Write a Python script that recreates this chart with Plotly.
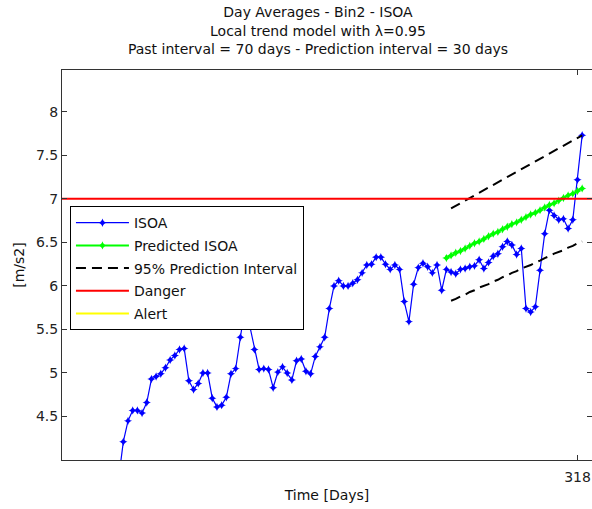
import plotly.graph_objects as go

# ---- data ----
isoa_days = list(range(220, 320))
isoa_values = [
    3.79, 4.21, 4.45, 4.57, 4.57, 4.54, 4.66, 4.93, 4.96, 4.99,
    5.06, 5.15, 5.20, 5.27, 5.28, 4.91, 4.81, 4.88, 5.00, 5.00,
    4.71, 4.61, 4.63, 4.72, 4.99, 5.05, 5.41, 5.75, 5.54, 5.27,
    5.04, 5.05, 5.04, 4.83, 5.01, 5.07, 5.00, 4.92, 5.14, 5.16,
    5.02, 4.99, 5.19, 5.30, 5.41, 5.74, 6.00, 6.06, 6.00, 6.00,
    6.03, 6.07, 6.15, 6.24, 6.25, 6.33, 6.33, 6.25, 6.19, 6.24,
    6.19, 5.82, 5.59, 6.02, 6.21, 6.26, 6.22, 6.15, 6.24, 5.95,
    6.19, 6.16, 6.14, 6.19, 6.20, 6.22, 6.23, 6.30, 6.20, 6.27,
    6.34, 6.37, 6.45, 6.51, 6.47, 6.36, 6.43, 5.74, 5.70, 5.76,
    6.18, 6.60, 6.87, 6.81, 6.76, 6.77, 6.66, 6.76, 7.22, 7.73,
]

pred_days = list(range(290, 320))
pred_values = [
    6.32, 6.35, 6.38, 6.40, 6.43, 6.46, 6.49, 6.51, 6.54, 6.57,
    6.60, 6.62, 6.65, 6.68, 6.71, 6.73, 6.76, 6.79, 6.82, 6.84,
    6.87, 6.90, 6.93, 6.95, 6.98, 7.01, 7.04, 7.06, 7.09, 7.12,
]

pi_days = list(range(291, 320))
pi_upper = [
    6.89, 6.92, 6.95, 6.98, 7.01, 7.04, 7.07, 7.10, 7.13, 7.16,
    7.19, 7.22, 7.25, 7.28, 7.31, 7.34, 7.37, 7.40, 7.43, 7.46,
    7.49, 7.52, 7.55, 7.58, 7.61, 7.64, 7.67, 7.70, 7.73,
]
pi_lower = [
    5.83, 5.85, 5.88, 5.90, 5.93, 5.95, 5.98, 6.00, 6.02, 6.05,
    6.07, 6.10, 6.12, 6.15, 6.17, 6.20, 6.22, 6.24, 6.27, 6.29,
    6.32, 6.34, 6.37, 6.39, 6.41, 6.44, 6.46, 6.49, 6.51,
]

danger_level = 7.0
x_range = [207.9, 321.1]
y_range = [4.0, 8.48]
y_ticks = [4.5, 5, 5.5, 6, 6.5, 7, 7.5, 8]
y_tick_labels = ["4.5", "5", "5.5", "6", "6.5", "7", "7.5", "8"]
x_ticks = [318]
x_tick_labels = ["318"]

FONT = "DejaVu Sans, Liberation Sans, Arial, sans-serif"

fig = go.Figure()

fig.add_trace(go.Scatter(
    x=isoa_days, y=isoa_values, mode="lines+markers", name="ISOA",
    line=dict(color="#0000FF", width=1.2),
    marker=dict(symbol="star-diamond", size=6, color="#0000FF"),
    legendgroup="a",
))
fig.add_trace(go.Scatter(
    x=pred_days, y=pred_values, mode="lines+markers", name="Predicted ISOA",
    line=dict(color="#00FF00", width=2),
    marker=dict(symbol="star-diamond", size=6, color="#00FF00"),
    legendgroup="b",
))
fig.add_trace(go.Scatter(
    x=pi_days, y=pi_upper, mode="lines", name="95% Prediction Interval",
    line=dict(color="black", width=2, dash="10px,6px"),
    legendgroup="c",
))
fig.add_trace(go.Scatter(
    x=pi_days, y=pi_lower, mode="lines", showlegend=False,
    line=dict(color="black", width=2, dash="10px,6px"),
    legendgroup="c",
))
fig.add_trace(go.Scatter(
    x=x_range, y=[danger_level, danger_level], mode="lines", name="Danger",
    line=dict(color="#FF0000", width=2),
    legendgroup="d",
))
fig.add_trace(go.Scatter(
    x=x_range, y=[None, None], mode="lines", name="Alert",
    line=dict(color="#FFFF00", width=2),
    legendgroup="e",
))

axis_common = dict(
    showgrid=False, zeroline=False, showline=True, linecolor="#333333",
    linewidth=1, mirror="ticks", ticks="inside", ticklen=5,
    tickcolor="#333333", automargin=False,
    tickfont=dict(family=FONT, size=14, color="#222222"),
)

fig.update_layout(
    width=592, height=509,
    margin=dict(l=62, r=0, t=70, b=49, autoexpand=False),
    paper_bgcolor="white", plot_bgcolor="white",
    font=dict(family=FONT, size=14, color="#111111"),
    title=dict(
        text="Day Averages - Bin2 - ISOA<br>Local trend model with λ=0.95<br>"
             "Past interval = 70 days - Prediction interval = 30 days",
        xref="paper", x=0.483, xanchor="center",
        yref="container", y=0.966, yanchor="top",
        font=dict(family=FONT, size=14, color="#111111"),
        automargin=False,
    ),
    xaxis=dict(
        range=x_range, tickvals=x_ticks, ticktext=x_tick_labels,
        title=dict(text="Time [Days]", font=dict(family=FONT, size=14), standoff=6),
        ticklabelstandoff=4,
        **axis_common,
    ),
    yaxis=dict(
        range=y_range, tickvals=y_ticks, ticktext=y_tick_labels,
        title=dict(text="[m/s2]", font=dict(family=FONT, size=14), standoff=8),
        ticklabelstandoff=0,
        **axis_common,
    ),
    legend=dict(
        x=0.015, y=0.651, xanchor="left", yanchor="top",
        bgcolor="white", bordercolor="black", borderwidth=1,
        font=dict(family=FONT, size=14, color="#111111"),
        tracegroupgap=1.5, traceorder="grouped", itemwidth=53,
    ),
    showlegend=True,
)

fig.write_html(
    "out.html",
    config={"displayModeBar": False},
    post_script="document.body.style.margin='0';document.body.style.overflow='hidden';",
)
